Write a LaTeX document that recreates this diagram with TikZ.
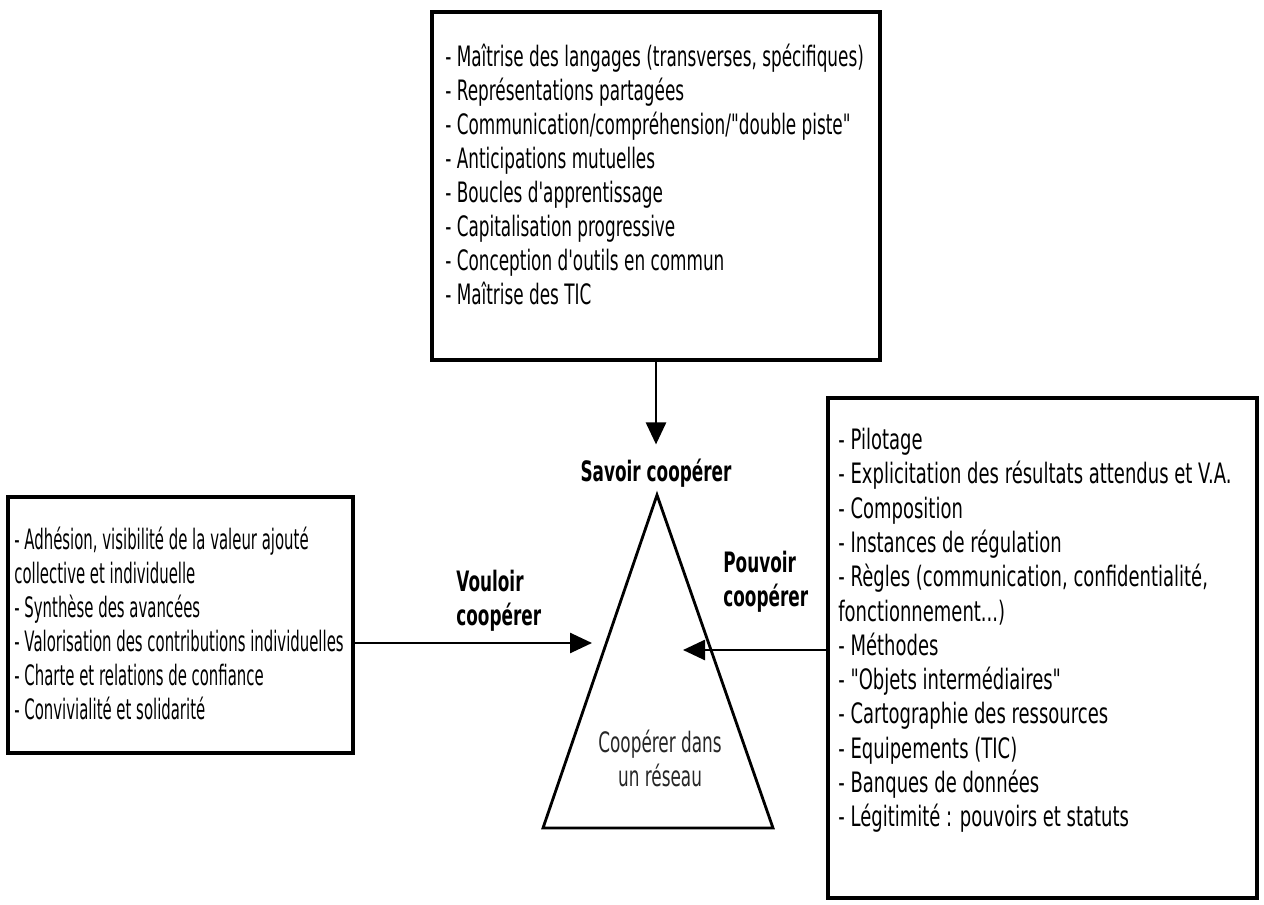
\documentclass[tikz,border=0pt]{standalone}
\usepackage{fontspec}
\setmainfont{DejaVu Sans}[FakeStretch=0.6, Ligatures=TeXOff]
\newfontfamily\vouloirfont{DejaVu Sans}[FakeStretch=0.53, Ligatures=TeXOff]
\newfontfamily\pouvoirfont{DejaVu Sans}[FakeStretch=0.64, Ligatures=TeXOff]
\usetikzlibrary{arrows.meta,positioning}

\begin{document}
\begin{tikzpicture}[
    x=0.02cm, y=-0.02cm,
    every node/.style={font=\fontsize{16}{19.35}\selectfont},
    box/.style={rectangle, draw=black, line width=2pt, inner sep=0pt},
    items/.style={align=left, inner sep=0pt, anchor=north west},
    coopname/.style={font=\fontsize{16}{19.35}\selectfont\bfseries, align=left, inner sep=0pt},
    arrow/.style={-{Triangle[length=0.44cm, width=0.4cm]}, line width=1.5pt}
]
\useasboundingbox (0,0) rectangle (1264,905);

% Boxes
\node[box, minimum width=8.96cm, minimum height=6.96cm] (topbox) at (656, 186) {};
\node[box, minimum width=6.9cm, minimum height=5.12cm] (leftbox) at (180.5, 625) {};
\node[box, minimum width=8.58cm, minimum height=10cm] (rightbox) at (1042.5, 648) {};

% Lists
\node[items] (savoirlist) at (445, 44) {- Maîtrise des langages (transverses, spécifiques)\\
- Représentations partagées\\
- Communication/compréhension/"double piste"\\
- Anticipations mutuelles\\
- Boucles d'apprentissage\\
- Capitalisation progressive\\
- Conception d'outils en commun\\
- Maîtrise des TIC};
\node[items, font=\fontsize{16}{19.35}\vouloirfont] (vouloirlist) at (14, 527) {- Adhésion, visibilité de la valeur ajouté\\
collective et individuelle\\
- Synthèse des avancées\\
- Valorisation des contributions individuelles\\
- Charte et relations de confiance\\
- Convivialité et solidarité};
\node[items, font=\fontsize{16}{19.5}\pouvoirfont] (pouvoirlist) at (838, 428) {- Pilotage\\
- Explicitation des résultats attendus et V.A.\\
- Composition\\
- Instances de régulation\\
- Règles (communication, confidentialité,\\
fonctionnement...)\\
- Méthodes\\
- "Objets intermédiaires"\\
- Cartographie des ressources\\
- Equipements (TIC)\\
- Banques de données\\
- Légitimité : pouvoirs et statuts};

% Triangle
\coordinate (apex) at (657, 495);
\coordinate (baseL) at (543, 828);
\coordinate (baseR) at (773, 828);
\draw[line width=1.6pt, line join=miter] (apex) -- (baseL) -- (baseR) -- cycle;
\node[align=center, inner sep=0pt, text=black!85] (reseau) at (660, 758) {Coopérer dans\\un réseau};

% Labels
\node[coopname] (savoir) at (656, 473) {Savoir coopérer};
\node[coopname, anchor=north west] (vouloir) at (456, 570) {Vouloir\\coopérer};
\node[coopname, anchor=north west] (pouvoir) at (723, 551) {Pouvoir\\coopérer};

% Connections
\coordinate (wanttip) at (592, 643);
\coordinate (cantip) at (683, 650);
\draw[arrow] (topbox.south) -- ([yshift=8pt]savoir.north);
\draw[arrow] (leftbox.east |- wanttip) -- (wanttip);
\draw[arrow] (rightbox.west |- cantip) -- (cantip);

\end{tikzpicture}
\end{document}
